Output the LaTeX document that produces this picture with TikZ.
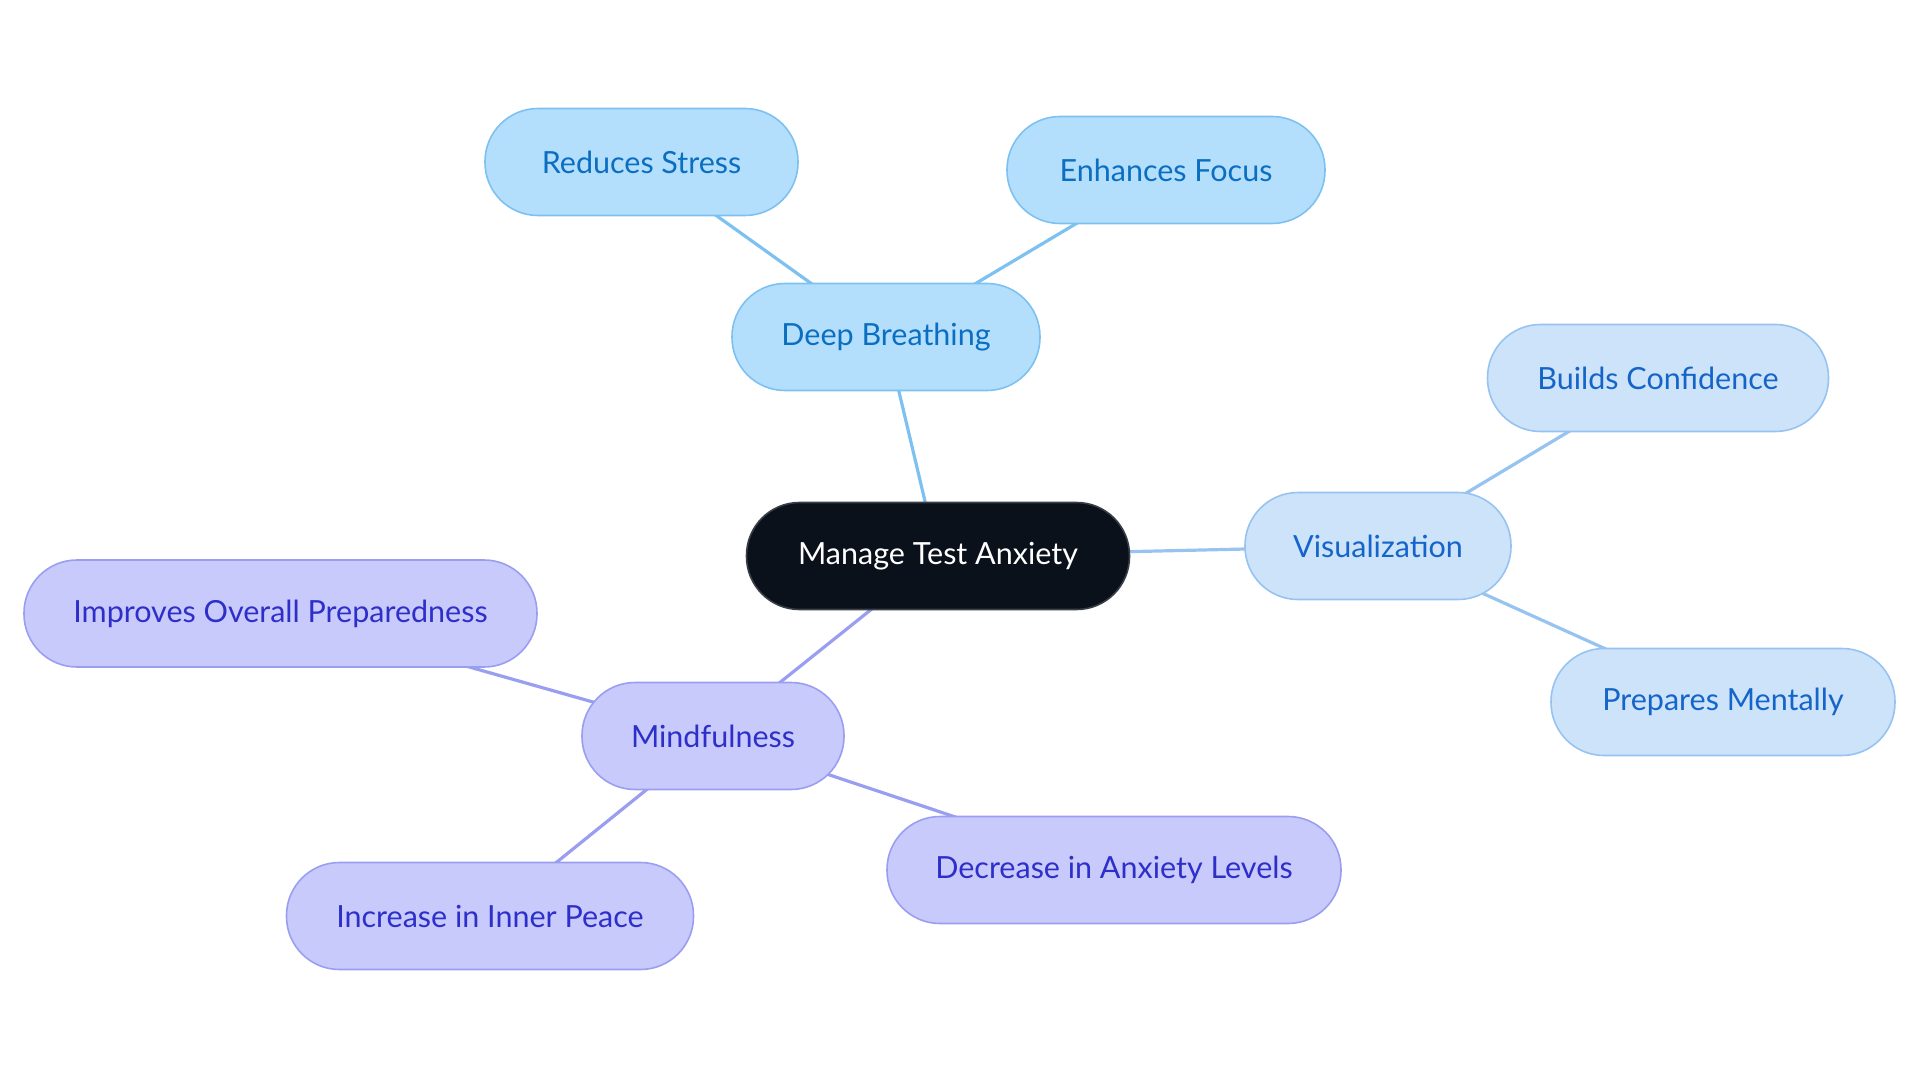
\documentclass[tikz,border=0pt]{standalone}
\usepackage{fontspec}
\setmainfont{Lato}
\usetikzlibrary{backgrounds}
\begin{document}
\begin{tikzpicture}[x=1pt,y=-1pt,
  pill/.style={rectangle, rounded corners=53pt, minimum height=107pt, line width=1.6pt, inner sep=0pt, font=\fontsize{30.5}{36}\selectfont},
  root/.style={pill, fill=rootfill, draw=rootdraw, text=white},
  bluen/.style={pill, fill=bluefill, draw=bluedraw, text=bluetext},
  vizn/.style={pill, fill=vizfill, draw=vizdraw, text=viztext},
  mindn/.style={pill, fill=mindfill, draw=minddraw, text=mindtext},
  blueedge/.style={draw=bluedraw, line width=3.2pt},
  vizedge/.style={draw=vizdraw, line width=3.2pt},
  mindedge/.style={draw=minddraw, line width=3.2pt}]
\definecolor{rootfill}{HTML}{0B111B}
\definecolor{rootdraw}{HTML}{3A3F47}
\definecolor{bluefill}{HTML}{B3DFFD}
\definecolor{bluedraw}{HTML}{7DC1F0}
\definecolor{bluetext}{HTML}{0B6EC0}
\definecolor{vizfill}{HTML}{CCE3FA}
\definecolor{vizdraw}{HTML}{96C3F0}
\definecolor{viztext}{HTML}{1565C9}
\definecolor{mindfill}{HTML}{C8CAFC}
\definecolor{minddraw}{HTML}{9A9EF0}
\definecolor{mindtext}{HTML}{2E2FC8}
\useasboundingbox (0,0) rectangle (1920,1083);

\node[root, minimum width=383pt] (root) at (938,556) {Manage Test Anxiety};
\node[bluen, minimum width=308pt] (db) at (886,337) {Deep Breathing};
\node[bluen, minimum width=313pt] (rs) at (641.5,162) {Reduces Stress};
\node[bluen, minimum width=318pt] (ef) at (1166,170) {Enhances Focus};
\node[vizn, minimum width=266pt] (viz) at (1378,546) {Visualization};
\node[vizn, minimum width=341pt] (bc) at (1658,378) {Builds Confidence};
\node[vizn, minimum width=344pt] (pm) at (1723,702) {Prepares Mentally};
\node[mindn, minimum width=262pt] (mf) at (713,736) {Mindfulness};
\node[mindn, minimum width=513pt] (iop) at (280.5,613.5) {Improves Overall Preparedness};
\node[mindn, minimum width=407pt] (iip) at (490,916) {Increase in Inner Peace};
\node[mindn, minimum width=454pt] (dal) at (1114,870) {Decrease in Anxiety Levels};

\begin{scope}[on background layer]
\draw[blueedge] (root.center) -- (db.center);
\draw[blueedge] (db.center) -- (rs.center);
\draw[blueedge] (db.center) -- (ef.center);
\draw[vizedge] (root.center) -- (viz.center);
\draw[vizedge] (viz.center) -- (bc.center);
\draw[vizedge] (viz.center) -- (pm.center);
\draw[mindedge] (root.center) -- (mf.center);
\draw[mindedge] (mf.center) -- (iop.center);
\draw[mindedge] (mf.center) -- (iip.center);
\draw[mindedge] (mf.center) -- (dal.center);
\end{scope}
\end{tikzpicture}
\end{document}
